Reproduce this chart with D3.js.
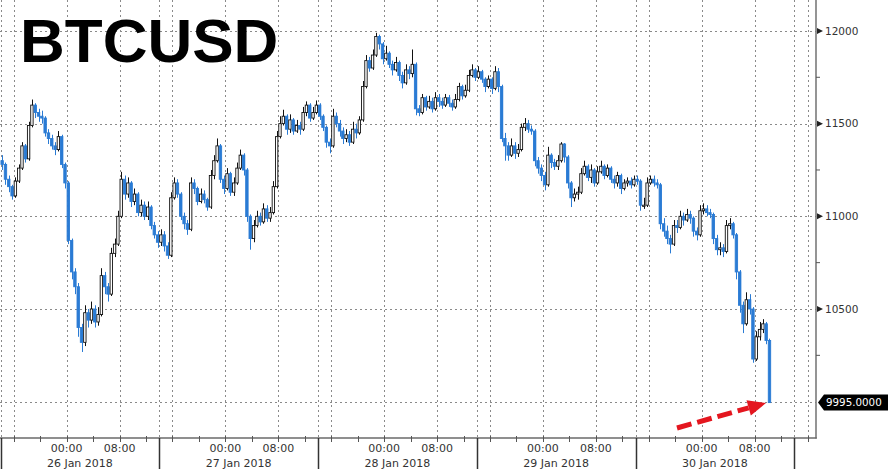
<!DOCTYPE html>
<html><head><meta charset="utf-8">
<script src="https://cdn.jsdelivr.net/npm/d3@7"></script>
<style>html,body{margin:0;padding:0;background:#fff;}svg{display:block;}</style>
</head><body>
<svg id="chart" width="890" height="473"></svg>
<script>
// ---- data (30-minute bars, BTCUSD, from 25 Jan 2018 14:00) ----
const title = "BTCUSD";
const firstOpen = 11300;
const closes = [
 11280,11200,11160,11110,11190,11260,11380,11310,11490,11600,
 11560,11540,11530,11450,11420,11380,11360,11430,11280,11180,
 10870,10700,10620,10400,10320,10480,10440,10500,10430,10470,
 10680,10620,10580,10800,10850,11000,11200,11120,11180,11080,
 11120,11020,11060,11000,11050,10950,10900,10860,10900,10840,
 10790,11100,11180,11120,11000,10960,10930,11180,11150,11080,
 11120,11090,11050,11220,11300,11380,11200,11150,11230,11130,
 11180,11260,11330,11250,11000,10880,10950,11000,10970,11040,
 10990,11020,11160,11430,11500,11540,11470,11520,11460,11490,
 11470,11560,11600,11530,11560,11600,11540,11480,11400,11380,
 11540,11500,11460,11420,11440,11400,11470,11450,11520,11700,
 11840,11800,11870,11970,11930,11850,11880,11820,11790,11830,
 11760,11720,11790,11770,11820,11580,11560,11640,11590,11620,
 11580,11640,11620,11600,11640,11610,11590,11630,11700,11650,
 11680,11760,11790,11750,11780,11740,11700,11740,11690,11780,
 11700,11420,11380,11330,11380,11340,11360,11480,11500,11470,
 11460,11300,11260,11220,11170,11330,11290,11270,11300,11390,
 11320,11180,11100,11120,11130,11230,11270,11210,11250,11180,
 11240,11270,11220,11260,11200,11180,11220,11150,11180,11190,
 11170,11200,11190,11060,11060,11180,11200,11180,11170,10960,
 10920,10880,10850,10950,10940,11000,10980,11010,10990,10920,
 10900,11030,11040,11020,11010,10880,10820,10830,10810,10950,
 10960,10900,10700,10520,10420,10550,10500,10230,10350,10390,
 10420,10330,9995
];
const highs = [
 11330,11290,11220,11170,11210,11280,11400,11390,11510,11630,
 11610,11580,11570,11540,11470,11440,11400,11460,11440,11290,
 11190,10880,10720,10640,10420,10520,10500,10540,10520,10510,
 10720,10700,10640,10830,10880,11030,11240,11220,11210,11190,
 11150,11130,11090,11080,11080,11060,10970,10920,10930,10920,
 10860,11130,11210,11200,11130,11020,10980,11210,11200,11160,
 11150,11140,11100,11250,11330,11420,11390,11220,11260,11240,
 11210,11290,11360,11340,11260,11010,10980,11030,11020,11070,
 11060,11050,11190,11460,11540,11575,11550,11550,11530,11520,
 11510,11590,11620,11610,11590,11625,11610,11550,11490,11420,
 11580,11560,11520,11480,11470,11460,11510,11500,11540,11730,
 11870,11860,11900,11990,11980,11940,11920,11890,11840,11860,
 11840,11780,11820,11810,11900,11830,11600,11660,11650,11650,
 11640,11670,11660,11640,11660,11655,11630,11660,11720,11710,
 11710,11790,11820,11800,11810,11790,11750,11760,11750,11810,
 11800,11710,11450,11400,11420,11400,11390,11500,11530,11520,
 11490,11470,11320,11280,11240,11375,11340,11310,11330,11400,
 11395,11330,11190,11150,11160,11260,11300,11280,11280,11260,
 11270,11300,11280,11280,11270,11220,11240,11230,11200,11210,
 11210,11220,11220,11200,11100,11210,11220,11220,11200,11180,
 10990,10950,10900,10980,10980,11030,11020,11040,11030,11000,
 10940,11060,11070,11060,11040,11020,10900,10860,10850,10980,
 10990,10970,10910,10710,10540,10590,10580,10510,10380,10430,
 10445,10430,10340
];
const lows = [
 11250,11170,11130,11090,11100,11180,11250,11290,11300,11480,
 11530,11510,11500,11430,11390,11360,11330,11350,11260,11150,
 10850,10660,10580,10350,10268,10300,10400,10420,10400,10410,
 10460,10580,10540,10570,10780,10840,10990,11090,11100,11050,
 11060,11000,11000,10980,10980,10930,10880,10830,10840,10810,
 10770,10780,11090,11100,10980,10930,10900,10920,11120,11060,
 11070,11070,11030,11040,11200,11290,11180,11120,11140,11110,
 11110,11170,11250,11220,10970,10820,10860,10940,10950,10960,
 10970,10970,11010,11150,11420,11490,11440,11450,11440,11450,
 11440,11460,11540,11510,11520,11550,11520,11460,11370,11340,
 11370,11480,11430,11390,11400,11380,11390,11420,11440,11510,
 11690,11780,11790,11860,11900,11820,11840,11800,11760,11780,
 11730,11690,11710,11740,11750,11545,11540,11550,11570,11580,
 11560,11570,11590,11580,11590,11590,11570,11580,11620,11630,
 11640,11670,11750,11730,11740,11720,11670,11690,11660,11680,
 11670,11400,11300,11300,11320,11310,11320,11350,11460,11450,
 11440,11270,11230,11190,11140,11160,11260,11250,11250,11290,
 11290,11150,11050,11080,11090,11120,11220,11190,11180,11160,
 11170,11230,11200,11210,11180,11150,11160,11120,11140,11160,
 11150,11160,11170,11030,11040,11050,11170,11160,11150,10930,
 10890,10850,10800,10840,10910,10930,10950,10970,10960,10890,
 10870,10890,11010,11000,10990,10850,10790,10790,10780,10800,
 10930,10880,10660,10480,10370,10410,10470,10210,10220,10330,
 10370,10310,9995
];
const lastPrice = 9995;
const lastPriceLabel = "9995.0000";
const yMajorTicks = [10000, 10500, 11000, 11500, 12000];
const yMajorLabels = ["", "10500", "11000", "11500", "12000"];
const yMinorTicks = [10250, 10750, 11250, 11750];
const timeLabels = ["00:00", "08:00"];
const dateLabels = ["26 Jan 2018", "27 Jan 2018", "28 Jan 2018", "29 Jan 2018", "30 Jan 2018"];

// ---- layout ----
const H = 3600e3;
const start = Date.UTC(2018, 0, 25, 14, 0);
const end = Date.UTC(2018, 0, 30, 17, 17);
const plotRight = 816, plotBottom = 438;
const x = d3.scaleUtc().domain([start, end]).range([0.5, plotRight]);
const y = d3.scaleLinear().domain([9804, 12167]).range([plotBottom, 0]);

const svg = d3.select("#chart");
const fontAxis = "'DejaVu Sans', Verdana, sans-serif";

// gridlines
const grid = svg.append("g");
grid.selectAll("line.h").data(yMajorTicks).join("line")
  .attr("x1", 0).attr("x2", plotRight)
  .attr("y1", d => Math.round(y(d)) + 0.5).attr("y2", d => Math.round(y(d)) + 0.5)
  .attr("stroke", "#8a8a8a").attr("stroke-width", 1).attr("stroke-dasharray", "2,3");

const separators = d3.range(0, 6).map(k => start + k * 24 * H);
const gridTimes = d3.utcHour.every(8).range(new Date(start), new Date(end)).map(d => +d);
const vgrid = separators.concat(gridTimes).filter(t => x(t) <= plotRight - 2);
grid.selectAll("line.v").data(vgrid).join("line")
  .attr("x1", d => Math.round(x(d)) + 0.5).attr("x2", d => Math.round(x(d)) + 0.5)
  .attr("y1", 0).attr("y2", plotBottom)
  .attr("stroke", "#8a8a8a").attr("stroke-width", 1).attr("stroke-dasharray", "2,3");

// title
svg.append("text").attr("x", 20).attr("y", 62)
  .attr("font-family", "'Liberation Sans', Arial, sans-serif")
  .attr("font-weight", "bold").attr("font-size", 62).attr("fill", "#000")
  .text(title);

// candles (open = previous close)
const bars = closes.map((c, i) => ({
  t: start + i * 0.5 * H + 0.25 * H,
  o: i === 0 ? firstOpen : closes[i - 1],
  c: c, h: highs[i], l: lows[i]
}));
const bw = 2.4;
const blue = "#2a7bd4";
const colorOf = d => d.c >= d.o ? "#111" : blue;
const cg = svg.append("g");
cg.selectAll("line").data(bars).join("line")
  .attr("x1", d => Math.round(x(d.t)) + 0.5).attr("x2", d => Math.round(x(d.t)) + 0.5)
  .attr("y1", d => y(d.h)).attr("y2", d => y(d.l))
  .attr("stroke", colorOf).attr("stroke-width", 1);
cg.selectAll("rect").data(bars).join("rect")
  .attr("x", d => x(d.t) - bw / 2)
  .attr("width", bw)
  .attr("y", d => Math.min(y(d.o), y(d.c)))
  .attr("height", d => Math.max(1.2, Math.abs(y(d.o) - y(d.c))))
  .attr("fill", d => d.c >= d.o ? "#fff" : blue)
  .attr("stroke", colorOf)
  .attr("stroke-width", 0.9);

// axes frame
svg.append("line").attr("x1", plotRight).attr("x2", plotRight).attr("y1", 0).attr("y2", plotBottom + 0.5)
  .attr("stroke", "#7a7a7a").attr("stroke-width", 1.6);
svg.append("line").attr("x1", 0).attr("x2", plotRight + 0.8).attr("y1", plotBottom).attr("y2", plotBottom)
  .attr("stroke", "#6a6a6a").attr("stroke-width", 1.6);

// right axis ticks
const ya = svg.append("g");
yMajorTicks.forEach((v, i) => {
  if (!yMajorLabels[i]) return;
  const yy = y(v);
  ya.append("path").attr("d", `M${plotRight + 1},${yy - 3}L${plotRight + 7},${yy}L${plotRight + 1},${yy + 3}Z`).attr("fill", "#222");
  ya.append("text").attr("x", 825).attr("y", yy).attr("dy", "0.36em")
    .attr("font-family", fontAxis).attr("font-size", 10.5).attr("fill", "#333").text(yMajorLabels[i]);
});
ya.selectAll("line.minor").data(yMinorTicks).join("line")
  .attr("x1", plotRight).attr("x2", plotRight + 4)
  .attr("y1", d => y(d)).attr("y2", d => y(d))
  .attr("stroke", "#555").attr("stroke-width", 1);

// last price tag
const ly = y(lastPrice);
svg.append("path")
  .attr("d", `M818,${ly}L824,${ly - 8}L888,${ly - 8}L888,${ly + 8}L824,${ly + 8}Z`)
  .attr("fill", "#000");
svg.append("text").attr("x", 826).attr("y", ly).attr("dy", "0.36em")
  .attr("font-family", fontAxis).attr("font-size", 10.3).attr("fill", "#fff").text(lastPriceLabel);

// bottom axis
const xa = svg.append("g");
const minor = d3.utcHour.every(4).range(new Date(start + H), new Date(end)).map(d => +d);
xa.selectAll("line.mt").data(minor).join("line")
  .attr("x1", d => Math.round(x(d)) + 0.5).attr("x2", d => Math.round(x(d)) + 0.5)
  .attr("y1", plotBottom - 2).attr("y2", plotBottom + 4)
  .attr("stroke", "#555").attr("stroke-width", 1);
xa.selectAll("line.sep").data(separators.filter(t => x(t) < plotRight)).join("line")
  .attr("x1", d => Math.max(1, Math.round(x(d)) + 0.5)).attr("x2", d => Math.max(1, Math.round(x(d)) + 0.5))
  .attr("y1", plotBottom).attr("y2", 469)
  .attr("stroke", "#333").attr("stroke-width", 1.5);
const labelTimes = gridTimes.filter(t => {
  const h = new Date(t).getUTCHours();
  return h === 0 || h === 8;
});
xa.selectAll("text.tl").data(labelTimes).join("text")
  .attr("x", d => x(d)).attr("y", 452).attr("text-anchor", "middle")
  .attr("font-family", fontAxis).attr("font-size", 11).attr("fill", "#333")
  .text(d => timeLabels[new Date(d).getUTCHours() === 0 ? 0 : 1]);
xa.selectAll("text.dl").data(dateLabels).join("text")
  .attr("x", (d, i) => x(separators[i] + 12 * H)).attr("y", 467).attr("text-anchor", "middle")
  .attr("font-family", fontAxis).attr("font-size", 11).attr("fill", "#333")
  .text(d => d);

// red dashed arrow
const tip = [766, 403], tail = [677, 428];
const dx = tip[0] - tail[0], dy = tip[1] - tail[1], len = Math.hypot(dx, dy);
const ux = dx / len, uy = dy / len;
const base = [tip[0] - 18 * ux, tip[1] - 18 * uy];
svg.append("line").attr("x1", tail[0]).attr("y1", tail[1]).attr("x2", base[0]).attr("y2", base[1])
  .attr("stroke", "#e4161f").attr("stroke-width", 5).attr("stroke-dasharray", "15,6");
svg.append("path")
  .attr("d", `M${tip[0]},${tip[1]}L${base[0] - 8 * uy},${base[1] + 8 * ux}L${base[0] + 8 * uy},${base[1] - 8 * ux}Z`)
  .attr("fill", "#e4161f");
</script>
</body></html>
